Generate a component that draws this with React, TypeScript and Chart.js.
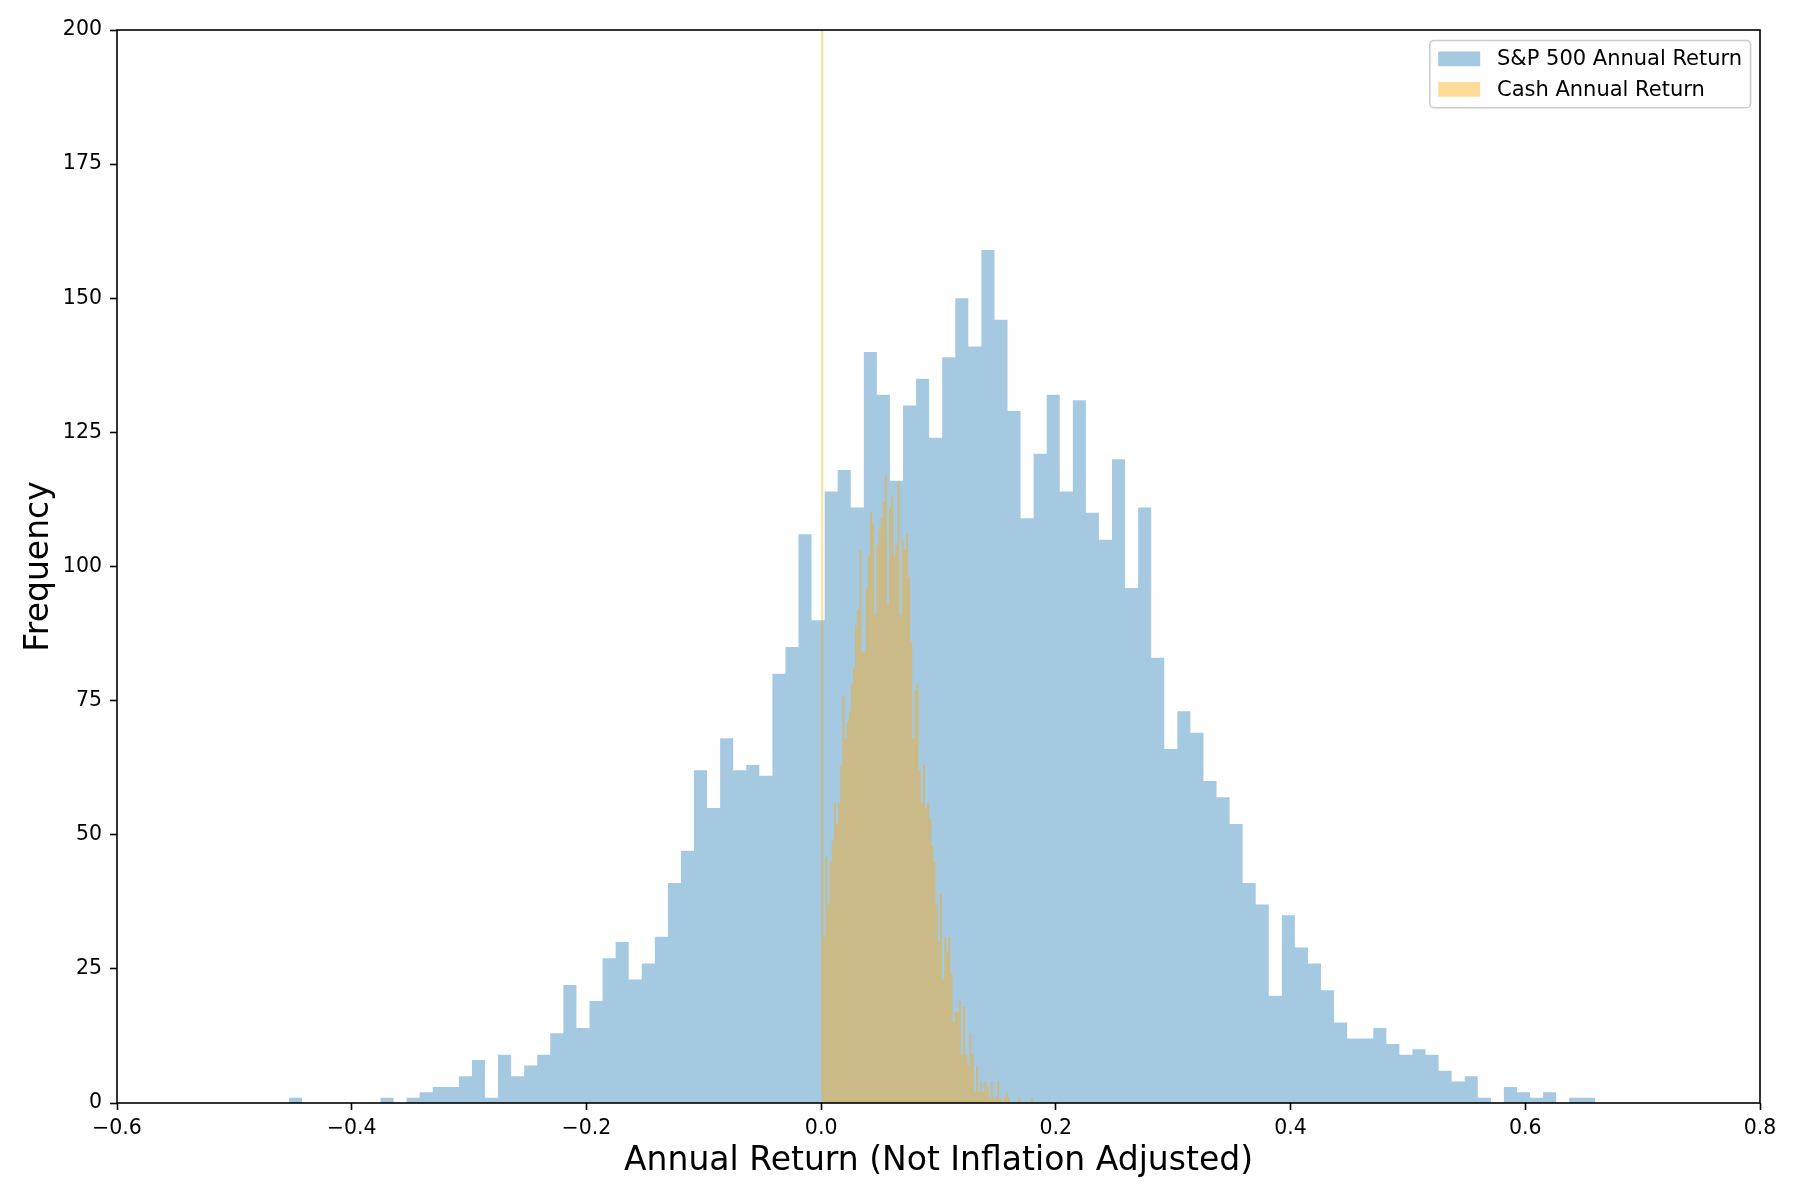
import React, { useEffect, useRef } from "react";
import { Chart, registerables } from "chart.js";

Chart.register(...registerables);

// histogram of simulated annual returns, 100 bins each
const SP500_MIN = -0.4534;
const SP500_MAX = 0.6597;
const sp500Counts = [
  1, 0, 0, 0, 0, 0, 0, 1, 0, 1,
  2, 3, 3, 5, 8, 1, 9, 5, 7, 9,
  13, 22, 14, 19, 27, 30, 23, 26, 31, 41,
  47, 62, 55, 68, 62, 63, 61, 80, 85, 106,
  90, 114, 118, 111, 140, 132, 116, 130, 135, 124,
  139, 150, 141, 159, 146, 129, 109, 121, 132, 114,
  131, 110, 105, 120, 96, 111, 83, 66, 73, 69,
  60, 57, 52, 41, 37, 20, 35, 29, 26, 21,
  15, 12, 12, 14, 11, 9, 10, 9, 6, 4,
  5, 1, 0, 3, 2, 1, 2, 0, 1, 1,
];

const CASH_MIN = 0;
const CASH_MAX = 0.1806;
const cashCounts = [
  303, 31, 46, 37, 45, 49, 56, 52, 56, 63,
  76, 68, 71, 73, 78, 81, 89, 92, 103, 84,
  84, 96, 102, 110, 108, 91, 104, 107, 109, 112,
  117, 93, 111, 113, 102, 104, 116, 91, 105, 103,
  106, 98, 86, 68, 77, 78, 62, 56, 63, 55,
  56, 53, 48, 45, 37, 30, 39, 23, 31, 28,
  31, 24, 15, 17, 17, 19, 9, 18, 9, 7,
  13, 9, 2, 7, 2, 4, 2, 4, 3, 1,
  4, 1, 1, 4, 1, 0, 1, 2, 1, 0,
  0, 0, 0, 1, 0, 0, 0, 0, 0, 1,
];

const seriesLabels = ["S&P 500 Annual Return", "Cash Annual Return"];
const xTicks = [-0.6, -0.4, -0.2, 0.0, 0.2, 0.4, 0.6, 0.8];
const yTicks = [0, 25, 50, 75, 100, 125, 150, 175, 200];

const FONT = "'DejaVu Sans', sans-serif";

function histPoints(counts: number[], lo: number, hi: number) {
  const w = (hi - lo) / counts.length;
  const pts = counts.map((c, i) => ({ x: lo + i * w, y: c }));
  pts.push({ x: hi, y: 0 });
  return pts;
}

const fmtMinus = (v: number, digits: number) => {
  const s = Number(v).toFixed(digits);
  return s.startsWith("-") ? "\u2212" + s.slice(1) : s;
};

// top/right spines like matplotlib
const framePlugin = {
  id: "frame",
  afterDraw(chart: any) {
    const { ctx, chartArea: a } = chart;
    ctx.save();
    ctx.strokeStyle = "#000";
    ctx.lineWidth = 1.6;
    ctx.strokeRect(a.left, a.top, a.right - a.left, a.bottom - a.top);
    ctx.restore();
  },
};

const legendPlugin = {
  id: "boxLegend",
  afterDraw(chart: any) {
    const { ctx, chartArea: a } = chart;
    const em = 21;
    const items = [0, 1].map((i) => ({
      text: seriesLabels[i],
      color: chart.data.datasets[i].backgroundColor,
    }));
    ctx.save();
    ctx.font = `${em}px ${FONT}`;
    const textW = Math.max(...items.map((it) => ctx.measureText(it.text).width));
    const pad = 0.4 * em;
    const handle = 2 * em;
    const gap = 0.8 * em;
    const textH = 0.95 * em;
    const spacing = 0.5 * em;
    const w = pad * 2 + handle + gap + textW;
    const h = pad * 2 + textH * items.length + spacing * (items.length - 1);
    const x = a.right - 0.45 * em - w;
    const y = a.top + 0.5 * em;

    ctx.beginPath();
    ctx.roundRect(x, y, w, h, 0.2 * em);
    ctx.fillStyle = "rgba(255,255,255,0.8)";
    ctx.fill();
    ctx.strokeStyle = "#cccccc";
    ctx.lineWidth = 1.6;
    ctx.stroke();

    items.forEach((it, i) => {
      const cy = y + pad + (textH + spacing) * i + textH / 2;
      ctx.fillStyle = it.color;
      ctx.fillRect(x + pad, cy - 0.35 * em, handle, 0.7 * em);
      ctx.fillStyle = "#000";
      ctx.textBaseline = "middle";
      ctx.textAlign = "left";
      ctx.fillText(it.text, x + pad + handle + gap, cy + 1);
    });
    ctx.restore();
  },
};

export default function App() {
  const canvasRef = useRef<HTMLCanvasElement | null>(null);

  useEffect(() => {
    if (!canvasRef.current) return;
    const ctx = canvasRef.current.getContext("2d");
    if (!ctx) return;

    const tickStyle = {
      color: "#000",
      font: { family: FONT, size: 20.5 },
    };

    const chart = new Chart(ctx, {
      type: "line",
      data: {
        datasets: [
          {
            label: seriesLabels[0],
            data: histPoints(sp500Counts, SP500_MIN, SP500_MAX),
            stepped: true,
            fill: "origin",
            backgroundColor: "rgba(31,119,180,0.4)",
            borderColor: "rgba(0,0,0,0)",
            borderWidth: 0,
            pointRadius: 0,
            order: 1,
          },
          {
            label: seriesLabels[1],
            data: histPoints(cashCounts, CASH_MIN, CASH_MAX),
            stepped: true,
            fill: "origin",
            backgroundColor: "rgba(255,165,0,0.4)",
            borderColor: "rgba(0,0,0,0)",
            borderWidth: 0,
            pointRadius: 0,
            order: 0,
          },
        ],
      },
      options: {
        responsive: false,
        animation: false,
        devicePixelRatio: 1,
        layout: { padding: { top: 30, right: 40, left: 0, bottom: 0 } },
        plugins: {
          legend: { display: false },
          tooltip: { enabled: false },
        },
        scales: {
          x: {
            type: "linear",
            min: -0.6,
            max: 0.8,
            afterBuildTicks: (scale: any) => {
              scale.ticks = xTicks.map((v) => ({ value: v }));
            },
            afterFit: (scale: any) => {
              scale.height = 97;
            },
            ticks: {
              ...tickStyle,
              padding: 6,
              maxRotation: 0,
              autoSkip: false,
              callback: (v: any) => fmtMinus(v, 1),
            },
            grid: {
              display: true,
              drawOnChartArea: false,
              drawTicks: true,
              tickLength: 7,
              tickWidth: 1.6,
              tickColor: "#000",
            },
            border: { display: false },
            title: {
              display: true,
              text: "Annual Return (Not Inflation Adjusted)",
              color: "#000",
              font: { family: FONT, size: 33, lineHeight: 1.2 },
              padding: { top: 0, bottom: 19 },
            },
          },
          y: {
            type: "linear",
            min: 0,
            max: 200,
            afterBuildTicks: (scale: any) => {
              scale.ticks = yTicks.map((v) => ({ value: v }));
            },
            afterFit: (scale: any) => {
              scale.width = 117;
            },
            ticks: {
              ...tickStyle,
              padding: 8,
              autoSkip: false,
              callback: (v: any) => fmtMinus(v, 0),
            },
            grid: {
              display: true,
              drawOnChartArea: false,
              drawTicks: true,
              tickLength: 7,
              tickWidth: 1.6,
              tickColor: "#000",
            },
            border: { display: false },
            title: {
              display: true,
              text: "Frequency",
              color: "#000",
              font: { family: FONT, size: 33, lineHeight: 1.2 },
              padding: { top: 20, bottom: 0 },
            },
          },
        },
      },
      plugins: [framePlugin, legendPlugin],
    });

    return () => {
      chart.destroy();
    };
  }, []);

  return (
    <div style={{ position: "absolute", left: 0, top: 0, width: 1800, height: 1200, background: "#fff" }}>
      <canvas ref={canvasRef} width={1800} height={1200} style={{ display: "block" }}></canvas>
    </div>
  );
}
